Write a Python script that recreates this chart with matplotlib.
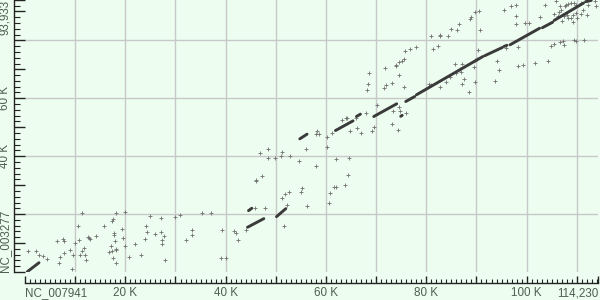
import matplotlib
matplotlib.use("Agg")
import matplotlib.pyplot as plt
import numpy as np

# dot plot: NC_007941 (x) vs NC_003277 (y), positions in kb
x_len = 114230
y_len = 93933

# long matching segments (start/end in kb)
seg_x0 = [0.46, 44.36, 44.56, 50.14, 54.78, 61.89, 66.07, 69.52, 74.9, 75.90,
          78.03, 91.63, 95.48, 96.71, 103.13, 105.48, 111.75]
seg_x1 = [2.79, 47.61, 45.22, 51.99, 56.23, 65.40, 66.87, 74.10, 75.2, 77.69,
          91.29, 95.16, 96.08, 102.59, 105.18, 111.35, 112.89]
seg_y0 = [0.10, 15.45, 21.19, 19.12, 45.98, 48.85, 53.69, 53.69, 53.76, 58.87,
          61.19, 74.67, 77.89, 78.47, 84.35, 86.87, 93.34]
seg_y1 = [3.21, 18.43, 22.02, 21.88, 47.60, 52.20, 54.52, 58.08, 54.10, 60.60,
          74.43, 77.54, 78.30, 84.18, 86.25, 92.89, 93.79]

# short hits (kb)
hit_x = [0.54, 2.19, 2.79, 3.53, 4.32, 6.43, 7.63, 7.71, 6.77, 6.97,
         7.77, 8.96, 9.30, 9.50, 9.96, 10.50, 10.70, 11.29, 10.96, 11.29,
         11.69, 12.01, 12.09, 12.49, 12.69, 12.89, 14.14, 15.74, 16.67, 17.13,
         17.33, 17.47, 17.67, 17.79, 17.87, 18.07, 17.39, 18.19, 17.53, 18.07,
         18.19, 19.38, 19.46, 19.92, 19.98, 20.78, 21.91, 23.11, 23.90, 24.04,
         24.30, 24.84, 25.96, 27.15, 27.15, 27.23, 27.23, 27.69, 27.83, 29.82,
         30.88, 32.07, 33.33, 33.27,
         35.20, 36.99, 39.24, 41.63, 42.09, 42.49, 39.10, 40.04, 44.02, 45.82,
         47.87, 51.73, 52.25, 45.96, 46.02, 47.21, 51.19, 51.93, 52.65, 55.12,
         55.18, 56.31, 46.81, 48.35, 49.74, 51.00, 51.19, 52.85, 54.58, 48.35,
         55.98,
         57.97, 60.56, 60.76, 61.55, 62.01, 63.80, 64.40, 61.95, 64.60, 58.31,
         58.03, 58.62, 60.22, 60.22, 61.21, 63.29, 64.08, 64.28, 64.74, 66.19,
         66.07, 67.07, 68.07, 69.26, 69.52, 70.26, 68.19, 68.39, 68.52, 71.51,
         72.05, 73.17, 71.71, 73.21, 74.30, 73.45, 74.56, 74.84, 73.90, 74.56,
         74.56,
         75.90, 81.01, 82.67, 82.81, 84.32, 86.19, 90.64, 81.33, 82.33, 75.70,
         76.83, 78.03, 75.50, 75.24, 74.04, 75.50, 80.54, 80.88, 82.67, 84.00,
         84.66, 85.66, 87.19, 86.65, 86.85, 85.99, 87.45, 87.19, 88.50, 89.64,
         89.64, 90.10, 89.50, 90.38, 85.00, 86.51, 88.64, 88.98, 89.64, 90.44,
         93.62, 94.42, 94.08, 95.42, 96.95, 97.95, 97.95, 97.81, 98.27, 98.27,
         99.26, 99.60, 100.46, 101.59, 102.73, 103.58, 104.18, 104.92, 105.44, 106.57,
         107.23, 107.37, 109.42, 109.76, 111.41, 105.78, 106.57, 109.22, 95.82, 105.38,
         106.37, 106.91, 107.57, 107.77, 108.23, 108.90, 109.42, 109.76, 110.76, 106.23,
         107.37, 108.03, 108.23, 108.90, 109.22, 109.76, 110.02, 110.89, 111.21, 112.01,
         112.21, 113.54, 113.88, 107.11]
hit_y = [7.36, 7.26, 5.77, 5.53, 4.60, 10.61, 11.30, 10.61, 3.01, 5.29,
         6.67, 7.61, 0.93, 5.77, 9.92, 15.90, 10.96, 20.29, 5.77, 7.36,
         8.40, 5.98, 4.15, 12.10, 11.75, 11.51, 12.45, 16.01, 7.02, 8.99,
         17.63, 18.32, 12.89, 13.48, 10.72, 8.05, 7.36, 7.61, 4.74, 3.01,
         20.29, 14.76, 11.75, 8.99, 20.74, 5.08, 9.68, 5.77, 11.30, 15.90,
         13.83, 19.26, 13.03, 18.77, 13.93, 11.06, 9.68, 12.45, 4.15, 19.01,
         19.81, 11.06, 14.52, 12.89,
         20.29, 20.50, 14.42, 14.17, 13.48, 11.06, 4.74, 4.94, 14.52, 22.23,
         22.23, 15.90, 23.27, 31.80, 31.36, 33.29, 25.48, 27.07, 27.55, 27.55,
         29.14, 22.71, 41.14, 39.41, 39.51, 40.21, 41.59, 40.00, 38.27, 42.35,
         42.35,
         36.54, 23.75, 27.31, 29.49, 29.49, 30.18, 33.53, 39.06, 39.31, 48.85,
         47.81, 47.81, 46.77, 43.11, 47.95, 52.55, 53.13, 53.34, 48.74, 49.88,
         53.13, 48.16, 54.86, 48.85, 50.02, 57.63, 62.68, 64.99, 68.69, 63.71,
         64.54, 65.44, 70.35, 51.27, 48.92, 55.76, 57.04, 55.76, 70.97, 72.36,
         68.10,
         54.86, 81.34, 81.69, 81.34, 81.48, 83.42, 83.42, 77.09, 78.13, 76.16,
         76.99, 77.54, 73.63, 72.70, 71.56, 63.95, 64.89, 64.65, 63.85, 65.58,
         67.17, 71.80, 71.80, 70.07, 69.04, 68.69, 66.62, 64.89, 62.23, 65.58,
         73.29, 73.63, 70.76, 76.75, 83.90, 85.73, 87.36, 88.05, 89.64, 90.23,
         66.03, 69.59, 72.70, 90.57, 91.85, 92.30, 88.50, 85.56, 77.54, 70.97,
         71.32, 85.98, 85.98, 72.08, 87.98, 92.30, 72.70, 77.89, 78.72, 79.41,
         79.61, 78.23, 79.96, 79.61, 79.96, 93.44, 91.71, 86.18, 77.33, 89.19,
         89.64, 90.57, 91.71, 92.30, 92.65, 92.89, 92.89, 92.30, 92.89, 88.26,
         88.50, 88.84, 87.70, 87.70, 88.84, 89.43, 87.70, 89.19, 90.57, 88.84,
         92.30, 93.44, 91.71, 86.53]

x_tick_labels = ["NC_007941", "", "20 K", "", "40 K", "", "60 K", "", "80 K", "",
                 "100 K", "", "114,230"]
y_tick_labels = ["NC_003277", "", "", "", "40 K", "", "60 K", "", "", "", "93,933"]

bg = "#edfdf0"
txt = "#4f604f"
plt.rcParams["font.family"] = ["Liberation Sans", "DejaVu Sans"]

fig = plt.figure(figsize=(6, 3), dpi=100, facecolor=bg)
ax = fig.add_axes([25 / 600, 28 / 300, 573 / 600, 272 / 300], facecolor=bg)
ax.set_xlim(0, x_len)
ax.set_ylim(0, y_len)

# grid
for gx in np.arange(10000, x_len, 10000):
    ax.axvline(gx, color="#c8c8c8", lw=1.0, zorder=0)
for gy in np.arange(20000, y_len, 20000):
    ax.axhline(gy, color="#c8c8c8", lw=1.0, zorder=0)

ax.plot(np.array(hit_x) * 1000, np.array(hit_y) * 1000, ls="", marker="+",
        ms=2.2, mew=0.6, color="#707070", zorder=2)
for x0, x1, y0, y1 in zip(seg_x0, seg_x1, seg_y0, seg_y1):
    ax.plot([x0 * 1000, x1 * 1000], [y0 * 1000, y1 * 1000], color="#3a3a3a",
            lw=2.1, solid_capstyle="round", zorder=3)

for side in ["top", "right"]:
    ax.spines[side].set_visible(False)
ax.spines["left"].set_position(("outward", 8))
ax.spines["bottom"].set_position(("outward", 8))
for side in ["left", "bottom"]:
    ax.spines[side].set_color("#222222")
    ax.spines[side].set_linewidth(1.0)

xt = list(np.arange(0, 110001, 10000)) + [x_len]
ax.set_xticks(xt)
ax.set_xticklabels(x_tick_labels)
ax.set_xticks(np.arange(0, x_len, 1000), minor=True)
yt = list(np.arange(0, 90001, 10000)) + [y_len]
ax.set_yticks(yt)
ax.set_yticklabels(y_tick_labels, rotation=90)
ax.set_yticks(np.arange(0, y_len, 2000), minor=True)

ax.tick_params(axis="x", which="major", direction="in", length=5, width=1,
               color="#222222", labelsize=8.4, labelcolor=txt, pad=3)
ax.tick_params(axis="x", which="minor", direction="in", length=3, width=0.8,
               color="#222222")
ax.tick_params(axis="y", which="major", direction="in", length=8, width=1,
               color="#222222", labelsize=8.4, labelcolor=txt, pad=2.2)
ax.tick_params(axis="y", which="minor", direction="in", length=4, width=0.8,
               color="#222222")

xl = ax.get_xticklabels()
xl[0].set_ha("left")
xl[-1].set_ha("right")
yl = ax.get_yticklabels()
for lab in yl:
    lab.set_va("center")
yl[0].set_va("bottom")
yl[-1].set_va("top")

fig.savefig("out.png", dpi=100, facecolor=bg)
